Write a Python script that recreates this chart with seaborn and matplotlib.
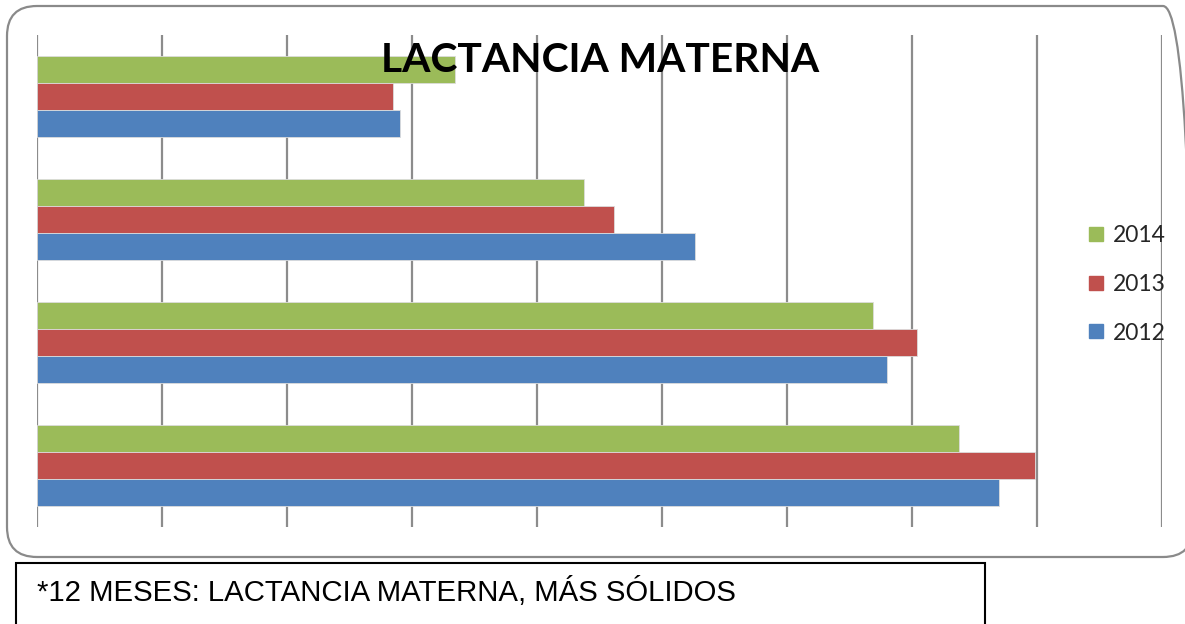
import matplotlib
matplotlib.use("Agg")
import matplotlib.pyplot as plt
import seaborn as sns
import pandas as pd
from matplotlib.patches import FancyBboxPatch, Rectangle
from matplotlib.lines import Line2D
from matplotlib.transforms import IdentityTransform

# ---- data ----
categories = ["Grupo 1", "Grupo 2", "Grupo 3", "Grupo 4"]
years = ["2014", "2013", "2012"]
values_2014 = [33.5, 43.8, 66.9, 73.8]
values_2013 = [28.5, 46.2, 70.4, 79.9]
values_2012 = [29.1, 52.7, 68.0, 77.0]
colors = {"2014": "#9BBB59", "2013": "#C0504D", "2012": "#4F81BD"}
title = "LACTANCIA MATERNA"
footnote = "*12 MESES: LACTANCIA MATERNA, MÁS SÓLIDOS"

rows = []
for yr, vals in zip(years, [values_2014, values_2013, values_2012]):
    for c, v in zip(categories, vals):
        rows.append({"cat": c, "year": yr, "val": v})
df = pd.DataFrame(rows)

W, H = 1185, 624
fig = plt.figure(figsize=(W / 100, H / 100), dpi=100)
sns.set_style("white")

ax = fig.add_axes([36.5 / W, 1 - 527 / H, (1161.5 - 36.5) / W, (527 - 35) / H])
sns.barplot(data=df, y="cat", x="val", hue="year", hue_order=years,
            order=categories, palette=colors, saturation=1, orient="h", width=0.664,
            ax=ax, legend=False, edgecolor="#dcdcdc", linewidth=0.6, zorder=3)
ax.set_xlim(0, 90)
ax.set_ylim(3.5, -0.5)
ax.set_xticks(range(0, 91, 10))
ax.xaxis.grid(True, color="#8c8c8c", linewidth=1.6, zorder=0)
ax.set_axisbelow(True)
ax.tick_params(left=False, bottom=False, labelleft=False, labelbottom=False)
ax.set_xlabel("")
ax.set_ylabel("")
for s in ax.spines.values():
    s.set_visible(False)
ax.patch.set_alpha(0)

# title
fig.text(600 / W, 1 - 72.5 / H, title, ha="center", va="baseline",
         fontsize=29.3, fontweight="bold", family="Lato", color="black", zorder=10)

# legend
handles = [Line2D([0], [0], marker="s", linestyle="none", markersize=10.5,
                  markerfacecolor=colors[y], markeredgecolor=colors[y]) for y in years]
leg = fig.legend(handles, years, loc="center left", bbox_to_anchor=(1087 / W, 1 - 284.5 / H),
                 frameon=False, prop={"family": "Lato", "size": 16.5},
                 handlelength=0.8, handletextpad=0.35, labelspacing=1.2,
                 borderaxespad=0, borderpad=0)

# outer rounded border (pixel coordinates)
border = FancyBboxPatch((7, H - 557), 1193 - 7, 557 - 6,
                        boxstyle="round,pad=0,rounding_size=30",
                        transform=IdentityTransform(), facecolor="none",
                        edgecolor="#8a8a8a", linewidth=1.6)
fig.patches.append(border)

# footnote box
box = Rectangle((15.5, -10), 985 - 15.5, (H - 563) + 10,
                transform=IdentityTransform(), facecolor="white", edgecolor="black", linewidth=1.5)
fig.patches.append(box)
fig.text(37 / W, 1 - 601 / H, footnote, ha="left", va="baseline",
         fontsize=21.2, family="Liberation Sans", color="black")

fig.savefig("out.png", dpi=100)
